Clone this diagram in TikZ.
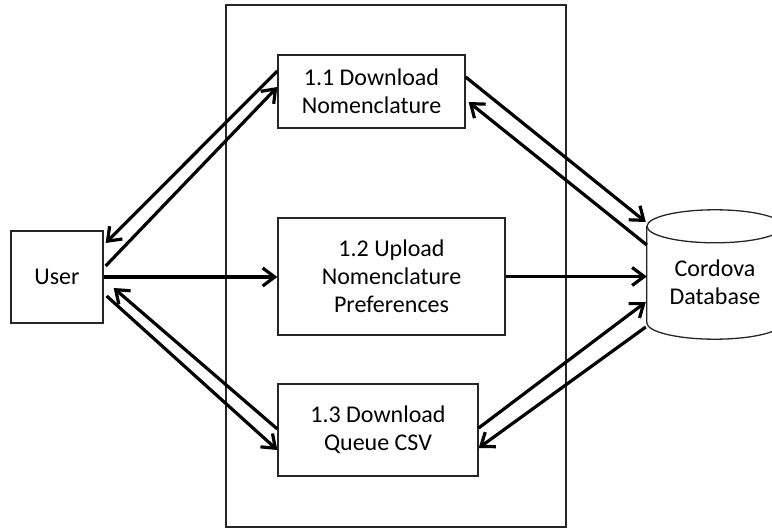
\documentclass[tikz,border=0pt]{standalone}
\usepackage{fontspec}
\setmainfont{Carlito}
\usetikzlibrary{arrows.meta,shadows}
\begin{document}
\begin{tikzpicture}[x=1pt,y=-1pt,
  boxline/.style={draw=black!85, line width=1.3pt},
  proc/.style={boxline, fill=white, align=center, inner sep=0pt,
    font=\fontsize{24}{28}\selectfont,
    drop shadow={shadow xshift=1.2pt, shadow yshift=-1.2pt, opacity=0.25}},
  flow/.style={line width=3.2pt, -{Straight Barb[length=12pt,width=18pt,line width=3.2pt]}},
  lbl/.style={align=center, inner sep=0pt, font=\fontsize{24}{28}\selectfont}]
\useasboundingbox (0,0) rectangle (772,529);
\clip (0,0) rectangle (772,529);
% system boundary
\node[boxline, minimum width=340pt, minimum height=522pt, inner sep=0pt] (sys) at (396,266) {};
% processes
\node[proc, minimum width=92pt, minimum height=92pt] (user) at (57,277) {User};
\node[proc, minimum width=187pt, minimum height=73pt] (b11) at (371.5,91.5) {1.1 Download\\Nomenclature};
\node[proc, minimum width=227pt, minimum height=117pt] (b12) at (391.5,276.5) {1.2 Upload\\Nomenclature\\Preferences};
\node[proc, minimum width=200pt, minimum height=92pt] (b13) at (378,430) {1.3 Download\\Queue CSV};
% database cylinder
\node[minimum width=136pt, minimum height=129pt, inner sep=0pt] (db) at (715,274.5) {};
\draw[boxline, fill=white] ([yshift=-16.5pt]db.north west) -- ([yshift=16.5pt]db.south west)
  arc[start angle=180, end angle=360, x radius=68pt, y radius=16.5pt]
  -- ([yshift=-16.5pt]db.north east);
\draw[boxline] ([yshift=-16.5pt]db.north) ellipse [x radius=68pt, y radius=16.5pt];
\node[lbl] (dbtext) at ([yshift=-8pt]db.center) {Cordova\\Database};
% flows on the left
\draw[flow] ([yshift=20.5pt]b11.west) -- ([xshift=2pt,yshift=34pt]user.east);
\draw[flow] ([xshift=2pt,yshift=11pt]user.east) -- ([yshift=4.5pt]b11.west);
\draw[flow] (user.east) -- (user.east -| b12.west);
\draw[flow] ([yshift=1pt]b13.west) -- ([xshift=10pt,yshift=-11pt]user.east);
\draw[flow] ([xshift=3pt,yshift=-19pt]user.east) -- ([yshift=-20pt]b13.west);
% flows on the right
\draw[flow] ([yshift=14.5pt]b11.east) -- ([xshift=-1pt,yshift=52.5pt]db.west);
\draw[flow] ([yshift=29.5pt]db.west) -- ([xshift=3pt,yshift=-10.5pt]b11.east);
\draw[flow] (b12.east) -- (b12.east -| db.west);
\draw[flow] ([yshift=2pt]b13.east) -- ([xshift=-1pt,yshift=-27.5pt]db.west);
\draw[flow] ([xshift=-1pt,yshift=-52.5pt]db.west) -- ([yshift=-18pt]b13.east);
\end{tikzpicture}
\end{document}
